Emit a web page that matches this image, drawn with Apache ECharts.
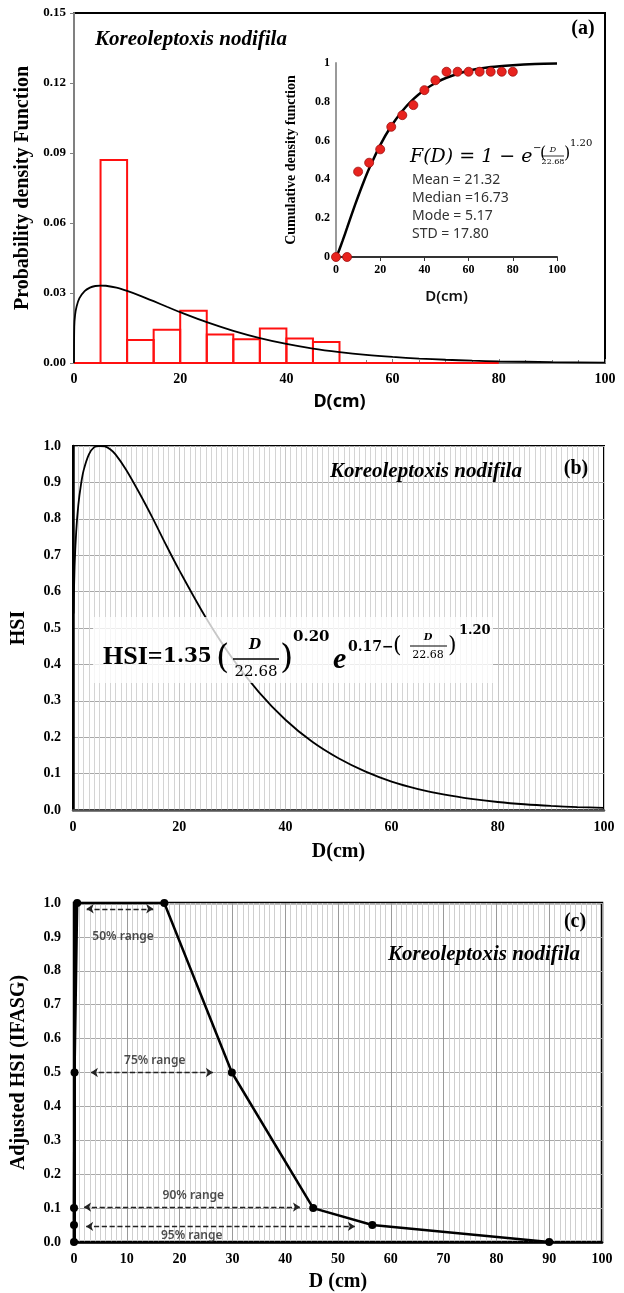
<!DOCTYPE html>
<html>
<head>
<meta charset="utf-8">
<script src="https://cdn.jsdelivr.net/npm/echarts@6.0.0/dist/echarts.min.js"></script>
<style>html,body{margin:0;padding:0;background:#fff}#c{width:624px;height:1293px}</style>
</head>
<body>
<div id="c"></div>
<script>
// ---------------- DATA ----------------
const speciesName = 'Koreoleptoxis nodifila';

// (a) histogram of diameters (bin start, density)
const binStart   = [0, 5, 10, 15, 20, 25, 30, 35, 40, 45, 50, 55, 60, 65, 70, 75];
const binWidth   = 5;
const binDensity = [0, 0.087, 0.0099, 0.0143, 0.0224, 0.0122, 0.0102, 0.0148, 0.0105, 0.0090, 0, 0, 0, 0, 0, 0];

// (a) fitted Weibull pdf
const pdfD   = [0, 0.05, 0.2, 0.5, 1, 2, 3, 4, 5, 6, 8, 10, 12.5, 15, 17.5, 20, 25, 30, 35, 40, 45, 50, 55, 60, 65, 70, 75, 80, 90, 100];
const pdfVal = [0, 0.0155, 0.0205, 0.0243, 0.0277, 0.0308, 0.0323, 0.0330, 0.0332, 0.0331, 0.0323, 0.0309, 0.0288, 0.0265, 0.0241, 0.0218, 0.0175, 0.0138, 0.0107, 0.0082, 0.0062, 0.0047, 0.0035, 0.0026, 0.0019, 0.0014, 0.0010, 0.0007, 0.0004, 0.0002];

// (a) inset: observed cumulative frequencies
const cdfObsD = [0, 5, 10, 15, 20, 25, 30, 35, 40, 45, 50, 55, 60, 65, 70, 75, 80];
const cdfObs  = [0, 0, 0.44, 0.486, 0.555, 0.671, 0.731, 0.783, 0.86, 0.911, 0.955, 0.955, 0.955, 0.955, 0.955, 0.955, 0.955];
// (a) inset: fitted CDF
const cdfFitD = [0, 1, 2, 3, 5, 7.5, 10, 12.5, 15, 20, 25, 30, 35, 40, 45, 50, 60, 70, 80, 90, 100];
const cdfFit  = [0, 0.023, 0.053, 0.084, 0.15, 0.233, 0.312, 0.387, 0.456, 0.577, 0.675, 0.753, 0.814, 0.861, 0.897, 0.924, 0.96, 0.979, 0.989, 0.995, 0.997];
const cdfStats = ['Mean = 21.32', 'Median =16.73', 'Mode = 5.17', 'STD = 17.80'];

// (b) HSI curve
const hsiD   = [0.1, 0.3, 0.6, 1, 1.5, 2, 3, 4, 5, 6, 7, 8, 10, 12.5, 15, 17.5, 20, 25, 30, 35, 40, 45, 50, 55, 60, 65, 70, 75, 80, 85, 90, 95, 100];
const hsiVal = [0.54, 0.67, 0.764, 0.838, 0.894, 0.933, 0.977, 0.997, 1.0, 0.999, 0.991, 0.977, 0.935, 0.871, 0.802, 0.729, 0.659, 0.529, 0.417, 0.324, 0.248, 0.188, 0.142, 0.106, 0.078, 0.0575, 0.042, 0.0305, 0.022, 0.0158, 0.0113, 0.008, 0.0058];

// (c) adjusted HSI
const adjD   = [0, 0, 0, 0.1, 0.6, 17.1, 29.9, 45.3, 56.5, 90];
const adjVal = [0, 0.05, 0.1, 0.5, 1.0, 1.0, 0.5, 0.1, 0.05, 0];

// (c) range annotations
const rangeLabels = ['50% range', '75% range', '90% range', '95% range'];
const rangeLevel  = [0.983, 0.5, 0.103, 0.046];
const rangeFrom   = [2.4, 3.2, 1.9, 2.3];
const rangeTo     = [15.0, 26.3, 42.8, 53.2];
const rangeTextX  = [9.3, 15.3, 22.6, 22.3];
const rangeTextY  = [0.90, 0.535, 0.138, 0.02];

// ---------------- CHART ----------------
const SERIF = 'Liberation Serif';
const SANS = 'Noto Sans';
const MATH = 'DejaVu Serif';
const lbl = (size, extra) => Object.assign({fontFamily: SERIF, fontWeight: 'bold', fontSize: size, color: '#000'}, extra || {});
const zip = (a, b) => a.map((v, i) => [v, b[i]]);

const chart = echarts.init(document.getElementById('c'), null, {renderer: 'canvas', width: 624, height: 1293});

function txt(x, y, text, font, opts) {
  return Object.assign({
    type: 'text', x: x, y: y, z: 60,
    style: Object.assign({text: text, fill: '#000', align: 'left', verticalAlign: 'middle'}, font)
  }, opts || {});
}
function hline(x1, x2, y, w) {
  return {type: 'line', z: 60, shape: {x1: x1, y1: y, x2: x2, y2: y}, style: {stroke: '#000', lineWidth: w}};
}
const speciesFont = {fontFamily: SERIF, fontWeight: 'bold', fontStyle: 'italic', fontSize: 21};

const graphics = [
  // panel (a)
  txt(95, 40, speciesName, speciesFont),
  txt(583, 29, '(a)', {fontFamily: SERIF, fontWeight: 'bold', fontSize: 20, align: 'center'}),
  txt(410, 157, 'F(D) = 1 \u2212 e', {fontFamily: MATH, fontStyle: 'italic', fontSize: 19}),
  txt(533, 148, '\u2212', {fontFamily: MATH, fontSize: 10}),
  txt(540, 154, '(', {fontFamily: MATH, fontSize: 16}),
  txt(553, 150, 'D', {fontFamily: MATH, fontStyle: 'italic', fontSize: 8, align: 'center'}),
  hline(542, 564, 156, 0.8),
  txt(553, 162, '22.68', {fontFamily: MATH, fontSize: 8, align: 'center'}),
  txt(564, 154, ')', {fontFamily: MATH, fontSize: 16}),
  txt(570, 143, '1.20', {fontFamily: MATH, fontSize: 10}),
  // panel (b)
  txt(330, 472, speciesName, speciesFont),
  txt(576, 469, '(b)', {fontFamily: SERIF, fontWeight: 'bold', fontSize: 20, align: 'center'}),
  {type: 'rect', z: 55, shape: {x: 93, y: 617, width: 400, height: 66}, style: {fill: 'rgba(255,255,255,0.78)'}},
  txt(103, 657, 'HSI=', {fontFamily: SERIF, fontWeight: 'bold', fontSize: 26}),
  txt(163, 657, '1.35', {fontFamily: MATH, fontWeight: 'bold', fontSize: 20}),
  txt(216, 659, '(', {fontFamily: MATH, fontSize: 34}),
  txt(255, 645, 'D', {fontFamily: MATH, fontWeight: 'bold', fontStyle: 'italic', fontSize: 14, align: 'center'}),
  hline(233, 279, 659, 1.5),
  txt(256, 672, '22.68', {fontFamily: MATH, fontSize: 15, align: 'center'}),
  txt(280, 659, ')', {fontFamily: MATH, fontSize: 34}),
  txt(293, 637, '0.20', {fontFamily: MATH, fontWeight: 'bold', fontSize: 15}),
  txt(333, 660, 'e', {fontFamily: SERIF, fontWeight: 'bold', fontStyle: 'italic', fontSize: 30}),
  txt(348, 647, '0.17\u2212', {fontFamily: MATH, fontWeight: 'bold', fontSize: 14}),
  txt(393, 646, '(', {fontFamily: MATH, fontSize: 22}),
  txt(428, 637, 'D', {fontFamily: MATH, fontWeight: 'bold', fontStyle: 'italic', fontSize: 10, align: 'center'}),
  hline(410, 447, 646, 1),
  txt(428, 655, '22.68', {fontFamily: MATH, fontSize: 11, align: 'center'}),
  txt(448, 646, ')', {fontFamily: MATH, fontSize: 22}),
  txt(459, 631, '1.20', {fontFamily: MATH, fontWeight: 'bold', fontSize: 13}),
  // panel (c)
  txt(575, 922, '(c)', {fontFamily: SERIF, fontWeight: 'bold', fontSize: 20, align: 'center'}),
  txt(388, 955, speciesName, speciesFont)
];
cdfStats.forEach((s, i) => graphics.push(txt(412, 180 + i * 18, s, {fontFamily: SANS, fontSize: 14, fill: '#333'})));

const option = {
  animation: false,
  backgroundColor: '#fff',
  grid: [
    {left: 74, top: 13, width: 531, height: 350, show: true, borderColor: '#000', borderWidth: 2},
    {left: 336, top: 63, width: 221, height: 194},
    {left: 73, top: 446, width: 531, height: 364, show: true, borderColor: '#000', borderWidth: 2},
    {left: 74, top: 903, width: 528, height: 339, show: true, borderColor: '#000', borderWidth: 2.5}
  ],
  xAxis: [
    {gridIndex: 0, type: 'value', min: 0, max: 100, interval: 20,
      axisLine: {onZero: false, lineStyle: {color: '#808080', width: 2}},
      axisTick: {show: true, inside: true, length: 4, lineStyle: {color: '#808080'}},
      minorTick: {show: true, splitNumber: 4, length: 3, lineStyle: {color: '#808080'}},
      splitLine: {show: false},
      axisLabel: lbl(14, {margin: 9}),
      name: 'D(cm)', nameLocation: 'middle', nameGap: 30,
      nameTextStyle: {fontFamily: SANS, fontWeight: 'bold', fontSize: 18, color: '#000'}},
    {gridIndex: 1, type: 'value', min: 0, max: 100, interval: 20,
      axisLine: {onZero: false, lineStyle: {color: '#333', width: 2}},
      axisTick: {show: true, length: 4, lineStyle: {color: '#333'}},
      splitLine: {show: false},
      axisLabel: lbl(12, {margin: 7}),
      name: 'D(cm)', nameLocation: 'middle', nameGap: 32,
      nameTextStyle: {fontFamily: SANS, fontWeight: 600, fontSize: 15, color: '#111'}},
    {gridIndex: 2, type: 'value', min: 0, max: 100, interval: 20,
      axisLine: {onZero: false, lineStyle: {color: '#555', width: 2.5}},
      axisTick: {show: false},
      minorTick: {show: false, splitNumber: 20},
      splitLine: {show: true, lineStyle: {color: '#c8c8c8', width: 1}},
      minorSplitLine: {show: true, lineStyle: {color: '#d4d4d4', width: 1}},
      axisLabel: lbl(14, {margin: 10}),
      name: 'D(cm)', nameLocation: 'middle', nameGap: 32,
      nameTextStyle: lbl(20)},
    {gridIndex: 3, type: 'value', min: 0, max: 100, interval: 10,
      axisLine: {onZero: false, lineStyle: {color: '#000', width: 2.5}},
      axisTick: {show: false},
      minorTick: {show: false, splitNumber: 10},
      splitLine: {show: true, lineStyle: {color: '#9a9a9a', width: 1}},
      minorSplitLine: {show: true, lineStyle: {color: '#cfcfcf', width: 1}},
      axisLabel: lbl(14, {margin: 10}),
      name: 'D (cm)', nameLocation: 'middle', nameGap: 30,
      nameTextStyle: lbl(20)}
  ],
  yAxis: [
    {gridIndex: 0, type: 'value', min: 0, max: 0.15, interval: 0.03,
      axisLine: {show: true, onZero: false, lineStyle: {color: '#808080', width: 2}},
      axisTick: {show: true, length: 4, lineStyle: {color: '#808080'}},
      splitLine: {show: false},
      axisLabel: lbl(13, {margin: 8, formatter: v => v.toFixed(2)}),
      name: 'Probability density Function', nameLocation: 'middle', nameGap: 40,
      nameTextStyle: lbl(20)},
    {gridIndex: 1, type: 'value', min: 0, max: 1, interval: 0.2,
      axisLine: {show: true, onZero: false, lineStyle: {color: '#9a9a9a', width: 2}},
      axisTick: {show: false},
      splitLine: {show: false},
      axisLabel: lbl(12, {margin: 6}),
      name: 'Cumulative density function', nameLocation: 'middle', nameGap: 38,
      nameTextStyle: lbl(14)},
    {gridIndex: 2, type: 'value', min: 0, max: 1, interval: 0.1,
      axisLine: {show: true, onZero: false, lineStyle: {color: '#000', width: 2.5}},
      axisTick: {show: false},
      splitLine: {show: true, lineStyle: {color: '#a8a8a8', width: 1}},
      axisLabel: lbl(14, {margin: 12, formatter: v => v.toFixed(1)}),
      name: 'HSI', nameLocation: 'middle', nameGap: 44,
      nameTextStyle: lbl(20)},
    {gridIndex: 3, type: 'value', min: 0, max: 1, interval: 0.1,
      axisLine: {show: true, onZero: false, lineStyle: {color: '#000', width: 3}},
      axisTick: {show: false},
      splitLine: {show: true, lineStyle: {color: '#a8a8a8', width: 1}},
      axisLabel: lbl(14, {margin: 13, formatter: v => v.toFixed(1)}),
      name: 'Adjusted HSI (IFASG)', nameLocation: 'middle', nameGap: 45,
      nameTextStyle: lbl(20)}
  ],
  series: [
    {type: 'custom', xAxisIndex: 0, yAxisIndex: 0, z: 2,
      data: binStart.map((s, i) => [s, s + binWidth, binDensity[i]]),
      encode: {x: [0, 1], y: 2},
      renderItem: (params, api) => {
        const p0 = api.coord([api.value(0), api.value(2)]);
        const p1 = api.coord([api.value(1), 0]);
        return {type: 'rect', shape: {x: p0[0], y: p0[1], width: p1[0] - p0[0], height: p1[1] - p0[1]},
          style: {fill: 'none', stroke: '#ff1010', lineWidth: 2}};
      }},
    {type: 'line', xAxisIndex: 0, yAxisIndex: 0, z: 3, data: zip(pdfD, pdfVal), smooth: 0.3,
      showSymbol: false, lineStyle: {color: '#000', width: 1.8}},
    {type: 'line', xAxisIndex: 1, yAxisIndex: 1, z: 3, data: zip(cdfFitD, cdfFit), smooth: 0.3,
      showSymbol: false, lineStyle: {color: '#000', width: 2.5}},
    {type: 'scatter', xAxisIndex: 1, yAxisIndex: 1, z: 4, data: zip(cdfObsD, cdfObs), symbolSize: 9,
      itemStyle: {color: '#e8231e', borderColor: '#a01010', borderWidth: 0.8, opacity: 1}},
    {type: 'line', xAxisIndex: 2, yAxisIndex: 2, z: 3, data: zip(hsiD, hsiVal), smooth: 0.3,
      showSymbol: false, lineStyle: {color: '#000', width: 1.8}},
    {type: 'line', xAxisIndex: 3, yAxisIndex: 3, z: 4, data: zip(adjD, adjVal),
      symbol: 'circle', symbolSize: 8, showSymbol: true,
      itemStyle: {color: '#000'}, lineStyle: {color: '#000', width: 2.5},
      markLine: {silent: true, symbol: ['arrow', 'arrow'], symbolSize: 7,
        lineStyle: {type: 'dashed', color: '#222', width: 1.3}, label: {show: false},
        data: rangeLevel.map((y, i) => [{coord: [rangeFrom[i], y]}, {coord: [rangeTo[i], y]}])}},
    {type: 'scatter', xAxisIndex: 3, yAxisIndex: 3, z: 5, symbolSize: 0,
      data: rangeLabels.map((n, i) => ({name: n, value: [rangeTextX[i], rangeTextY[i]]})),
      label: {show: true, position: 'inside', formatter: '{b}', fontFamily: SANS, fontWeight: 600, fontSize: 12, color: '#222'}}
  ],
  graphic: graphics
};
chart.setOption(option);
</script>
</body>
</html>
